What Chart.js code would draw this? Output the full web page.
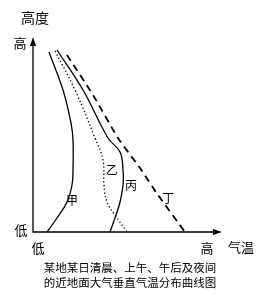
<!DOCTYPE html>
<html>
<head>
<meta charset="utf-8">
<script src="https://cdn.jsdelivr.net/npm/chart.js@4.4.1/dist/chart.umd.min.js"></script>
<style>
    html, body { margin: 0; padding: 0; background: #fff; }
    #wrap { width: 265px; height: 295px; position: relative; }
</style>
</head>
<body>
<div id="wrap"><canvas id="chart" width="265" height="295"></canvas></div>
<script>
// temperature (x) / height (y), both on a 0..100 schematic scale
const jiaTemp = [8, 15, 19, 20, 20, 19.5, 17, 12, 7];
const jiaHeight = [90, 71, 54.5, 46, 31, 23.5, 15, 7, 0];
const yiTemp = [11, 21, 31, 35, 35.5, 37, 41, 47];
const yiHeight = [90.5, 71, 47, 36, 23.5, 15, 8.5, 0];
const bingTemp = [12, 25, 37.5, 43.5, 45, 45, 43.5, 41.5, 38.5];
const bingHeight = [91, 71, 47, 40, 31, 23.5, 15, 8.5, 0];
const dingTemp = [17, 30, 42.5, 53.5, 62.5, 76];
const dingHeight = [88.5, 68.5, 47, 32, 18.5, 0];

const curveNames = ['甲', '乙', '丙', '丁'];
const xEndLabels = ['低', '高'];
const yEndLabels = ['低', '高'];
const title = ['某地某日清晨、上午、午后及夜间', '的近地面大气垂直气温分布曲线图'];

const font = '"Noto Sans CJK SC", "Noto Sans", sans-serif';

function pts(xs, ys) {
    return xs.map((x, i) => ({ x: x, y: ys[i] }));
}

const decor = {
    id: 'decor',
    afterDatasetsDraw(chart) {
        const ctx = chart.ctx;
        const xs = chart.scales.x;
        const ys = chart.scales.y;
        const x0 = xs.getPixelForValue(0);
        const y0 = ys.getPixelForValue(0);
        const xTip = xs.getPixelForValue(94.5);
        const yTip = ys.getPixelForValue(97.5);

        ctx.save();
        ctx.strokeStyle = '#000';
        ctx.fillStyle = '#000';
        ctx.lineWidth = 1.3;
        ctx.beginPath();
        ctx.moveTo(x0, yTip + 6);
        ctx.lineTo(x0, y0);
        ctx.lineTo(xTip - 6, y0);
        ctx.stroke();

        // arrow heads
        ctx.beginPath();
        ctx.moveTo(x0, yTip);
        ctx.lineTo(x0 - 3, yTip + 9);
        ctx.lineTo(x0 + 3, yTip + 9);
        ctx.closePath();
        ctx.fill();
        ctx.beginPath();
        ctx.moveTo(xTip, y0);
        ctx.lineTo(xTip - 9, y0 - 3);
        ctx.lineTo(xTip - 9, y0 + 3);
        ctx.closePath();
        ctx.fill();

        ctx.textAlign = 'center';
        ctx.textBaseline = 'middle';
        ctx.font = '14px ' + font;
        ctx.fillText('高度', 35, 18);
        ctx.font = '13px ' + font;
        ctx.fillText(yEndLabels[1], 20, 43);
        ctx.fillText(yEndLabels[0], 21, 230);
        ctx.fillText(xEndLabels[0], 38, 248);
        ctx.fillText(xEndLabels[1], 207, 248);
        ctx.fillText('气温', 241, 247);

        // curve names, anchored in data units
        const spots = [[19.5, 16], [39.5, 31], [49, 23.5], [67.5, 17]];
        ctx.font = '12px ' + font;
        curveNames.forEach((name, i) => {
            ctx.fillText(name, xs.getPixelForValue(spots[i][0]), ys.getPixelForValue(spots[i][1]));
        });

        ctx.font = '11.5px ' + font;
        ctx.fillText(title[0], 130, 268);
        ctx.fillText(title[1], 130, 283);
        ctx.restore();
    }
};

const base = { showLine: true, pointRadius: 0, borderColor: '#000', fill: false, tension: 0.4 };

new Chart(document.getElementById('chart'), {
    type: 'scatter',
    data: {
        datasets: [
            { ...base, label: curveNames[0], data: pts(jiaTemp, jiaHeight), borderWidth: 1.3 },
            { ...base, label: curveNames[1], data: pts(yiTemp, yiHeight), borderWidth: 1.3, borderDash: [1.3, 2.4] },
            { ...base, label: curveNames[2], data: pts(bingTemp, bingHeight), borderWidth: 1.3 },
            { ...base, label: curveNames[3], data: pts(dingTemp, dingHeight), borderWidth: 1.8, borderDash: [7, 5], tension: 0.2 }
        ]
    },
    options: {
        responsive: false,
        animation: false,
        layout: { padding: { left: 33, right: 32, top: 32, bottom: 63 } },
        plugins: { legend: { display: false }, tooltip: { enabled: false } },
        scales: {
            x: { type: 'linear', min: 0, max: 100, display: false },
            y: { type: 'linear', min: 0, max: 100, display: false }
        }
    },
    plugins: [decor]
});
</script>
</body>
</html>
